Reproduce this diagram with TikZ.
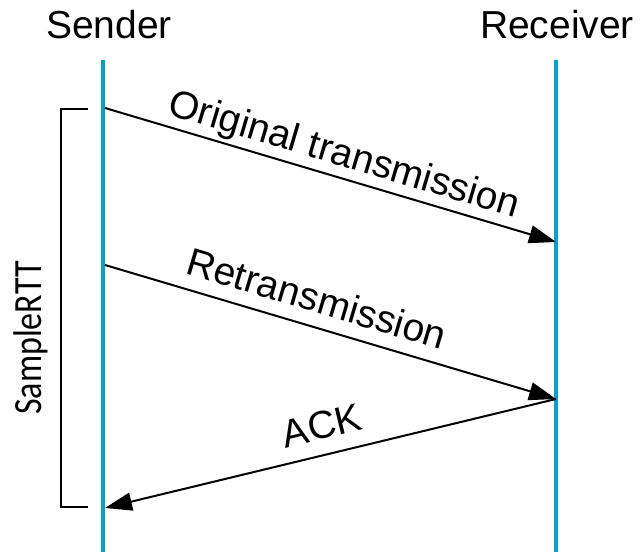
\documentclass[tikz,border=0pt]{standalone}
\usepackage{fontspec}
\setmainfont{Liberation Sans}
\newfontfamily\carlito{Carlito}
\usetikzlibrary{arrows.meta}
\definecolor{lifeblue}{RGB}{10,160,200}
\tikzset{
  lifeline/.style={draw=lifeblue, line width=4pt},
  msg/.style={draw=black, line width=2pt, -{Triangle[length=27pt,width=18pt]}, shorten >=0pt},
  lbl/.style={inner sep=0pt, font=\fontsize{39}{44}\selectfont},
  bracket/.style={draw=black, line width=2pt},
}
\begin{document}
\begin{tikzpicture}[x=1pt,y=-1pt]
\useasboundingbox (0,0) rectangle (641,552);
% lifelines
\coordinate (sTop) at (103,60);
\coordinate (sBot) at (103,552);
\coordinate (rTop) at (556,60);
\coordinate (rBot) at (556,552);
\draw[lifeline] (sTop) -- (sBot);
\draw[lifeline] (rTop) -- (rBot);
% headers
\node[lbl, anchor=base] (sender) at (109,38) {Sender};
\node[lbl, anchor=base] (receiver) at (557,38) {Receiver};
% message points
\coordinate (s1) at (105,108);
\coordinate (r1) at (556,242);
\coordinate (s2) at (105,265);
\coordinate (r2) at (556,399);
\coordinate (s3) at (105,508);
\draw[msg] (s1) -- (r1);
\draw[msg] (s2) -- (r2);
\draw[msg] (r2) -- (s3);
% labels
\node[lbl, anchor=base, rotate=-16.55] (l1) at (341,165.9) {Original transmission};
\node[lbl, anchor=base, rotate=-16.55] (l2) at (313,311.9) {Retransmission};
\node[lbl, anchor=base, rotate=13.6] (l3) at (324.8,438.6) {ACK};
% bracket
\coordinate (bA) at (88,109);
\coordinate (bB) at (61,109);
\coordinate (bC) at (61,507);
\coordinate (bD) at (88,507);
\draw[bracket] (bA) -- (bB) -- (bC) -- (bD);
\node[inner sep=0pt, rotate=90, font=\carlito\fontsize{40}{46}\selectfont] (rtt) at (31,338) {\scalebox{0.85}[1]{SampleRTT}};
\end{tikzpicture}
\end{document}
